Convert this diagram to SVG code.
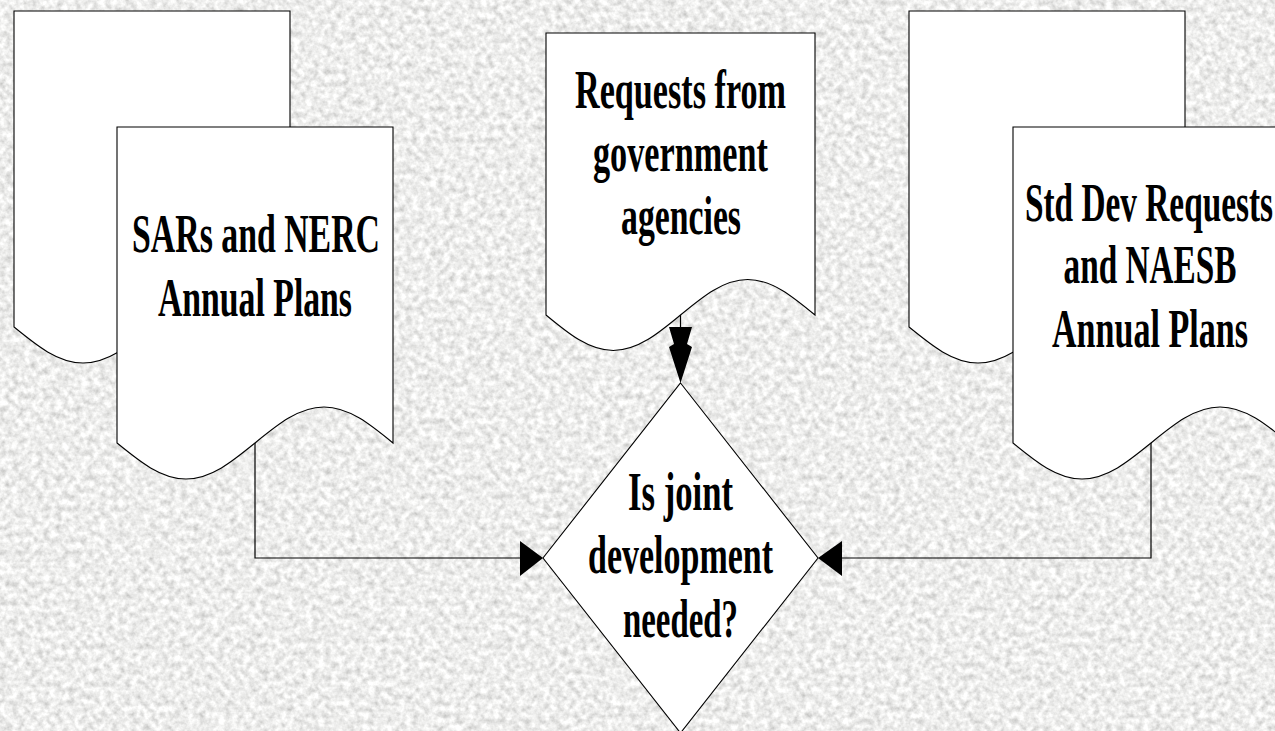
<svg xmlns="http://www.w3.org/2000/svg" xmlns:xlink="http://www.w3.org/1999/xlink" width="1275" height="731" viewBox="0 0 1275 731">
  <style>
    .doc { fill: #ffffff; stroke: #000000; stroke-width: 1.1; }
    .dec { fill: #ffffff; stroke: #000000; stroke-width: 1.1; }
    .wire { fill: none; stroke: #000000; stroke-width: 1.2; }
    .head { fill: #000000; stroke: none; }
    .lbl { font-family: "Liberation Serif", "Times New Roman", serif; font-weight: bold; font-size: 54px; fill: #000000; text-anchor: middle; }
  </style>
  <defs>
    <filter id="granite" x="0" y="0" width="100%" height="100%" filterUnits="userSpaceOnUse">
      <feTurbulence type="fractalNoise" baseFrequency="0.16" numOctaves="3" seed="7" result="n"/>
      <feColorMatrix in="n" type="matrix" values="0.7 0 0 0 0.5  0.7 0 0 0 0.5  0.7 0 0 0 0.49  0 0 0 0 1"/>
    </filter>
    <path id="docShape" d="M0,0 H276 V316 C253.5,297.6 232,280 207,280 C182,280 160.5,297.6 138,316 C115.5,334.4 94,352 69,352 C44,352 22.5,334.4 0,316 Z"/>
  </defs>

  <rect x="0" y="0" width="1275" height="731" fill="#d9d9d7"/>
  <rect x="0" y="0" width="1275" height="731" filter="url(#granite)"/>

  <g id="connectors">
    <path class="wire" d="M255,443 V558 H522"/>
    <polygon class="head" points="520,541 520,576 543,558"/>
    <path class="wire" d="M1151,443 V558 H840"/>
    <polygon class="head" points="842,541 842,576 818,558"/>
    <path class="wire" d="M680.5,315 V330"/>
    <polygon class="head" points="669,327 692,327 687,344 692,347 680.5,383 669,347 674,344"/>
  </g>

  <g id="node-sars-back">
    <use href="#docShape" class="doc" x="14" y="11"/>
  </g>
  <g id="node-sars">
    <use href="#docShape" class="doc" x="117" y="127"/>
    <text class="lbl" x="256" y="252" textLength="248" lengthAdjust="spacingAndGlyphs">SARs and NERC</text>
    <text class="lbl" x="255" y="316" textLength="194" lengthAdjust="spacingAndGlyphs">Annual Plans</text>
  </g>

  <g id="node-requests">
    <path class="doc" transform="translate(546,33)" d="M0,0 H269 V282 C247.1,263.8 226.1,246.5 201.75,246.5 C177.4,246.5 156.4,263.8 134.5,282 C112.6,300.2 91.6,317.5 67.25,317.5 C42.9,317.5 21.9,300.2 0,282 Z"/>
    <text class="lbl" x="680.5" y="108" textLength="211" lengthAdjust="spacingAndGlyphs">Requests from</text>
    <text class="lbl" x="680.5" y="171" textLength="175" lengthAdjust="spacingAndGlyphs">government</text>
    <text class="lbl" x="681" y="234" textLength="120" lengthAdjust="spacingAndGlyphs">agencies</text>
  </g>

  <g id="node-std-back">
    <use href="#docShape" class="doc" x="909" y="11"/>
  </g>
  <g id="node-std">
    <use href="#docShape" class="doc" x="1013" y="127"/>
    <text class="lbl" x="1149" y="221" textLength="248" lengthAdjust="spacingAndGlyphs">Std Dev Requests</text>
    <text class="lbl" x="1150" y="283" textLength="173" lengthAdjust="spacingAndGlyphs">and NAESB</text>
    <text class="lbl" x="1150" y="347" textLength="196" lengthAdjust="spacingAndGlyphs">Annual Plans</text>
  </g>

  <g id="node-decision">
    <polygon class="dec" points="680.5,383 818,558 680.5,733 543,558"/>
    <text class="lbl" x="680.5" y="510" textLength="105" lengthAdjust="spacingAndGlyphs">Is joint</text>
    <text class="lbl" x="680.5" y="573" textLength="185" lengthAdjust="spacingAndGlyphs">development</text>
    <text class="lbl" x="680.5" y="637" textLength="115" lengthAdjust="spacingAndGlyphs">needed?</text>
  </g>
</svg>
